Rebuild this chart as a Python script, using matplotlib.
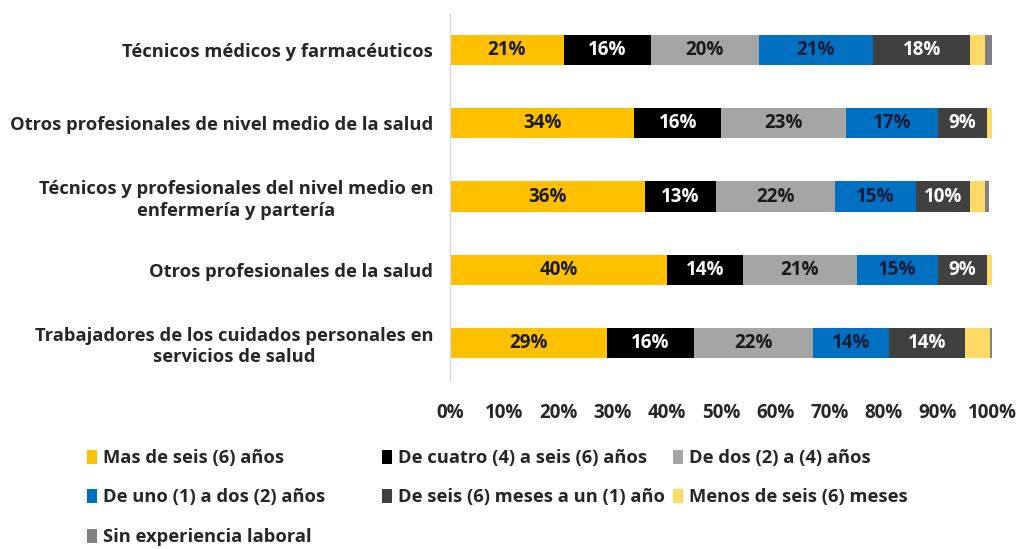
import matplotlib
matplotlib.use("Agg")
import matplotlib.pyplot as plt
import numpy as np

categories = [
    "Técnicos médicos y farmacéuticos",
    "Otros profesionales de nivel medio de la salud",
    "Técnicos y profesionales del nivel medio en\nenfermería y partería",
    "Otros profesionales de la salud",
    "Trabajadores de los cuidados personales en\nservicios de salud",
]
series_names = [
    "Mas de seis (6) años",
    "De cuatro (4) a seis (6) años",
    "De dos (2) a (4) años",
    "De uno (1) a dos (2) años",
    "De seis (6) meses a un (1) año",
    "Menos de seis (6) meses",
    "Sin experiencia laboral",
]
mas_seis_anos = [21, 34, 36, 40, 29]
cuatro_seis_anos = [16, 16, 13, 14, 16]
dos_cuatro_anos = [20, 23, 22, 21, 22]
uno_dos_anos = [21, 17, 15, 15, 14]
seis_meses_un_ano = [18, 9, 10, 9, 14]
menos_seis_meses = [2.7, 1.3, 2.8, 1.5, 4.6]
sin_experiencia = [1.3, 0.7, 0.7, 0.5, 0.4]
xtick_labels = ["0%", "10%", "20%", "30%", "40%", "50%", "60%", "70%", "80%", "90%", "100%"]

series = [mas_seis_anos, cuatro_seis_anos, dos_cuatro_anos, uno_dos_anos,
          seis_meses_un_ano, menos_seis_meses, sin_experiencia]
colors = ["#FFC000", "#000000", "#A5A5A5", "#0070C0", "#404040", "#FFD966", "#808080"]
label_colors = ["#1a1a1a", "white", "#1a1a1a", "#0d1b3a", "white", None, None]

FONT = "Open Sans"
plt.rcParams['font.family'] = [FONT, 'DejaVu Sans']
TXT = '#262626'

fig = plt.figure(figsize=(10.2, 5.49), dpi=100)
ax = fig.add_axes([450/1020, 1 - 379.5/549, 542/1020, 366/549])

y = np.arange(len(categories))
left = np.zeros(len(categories))
handles = []
for vals, name, col, lc in zip(series, series_names, colors, label_colors):
    vals = np.array(vals, dtype=float)
    b = ax.barh(y, vals, left=left, height=0.41, color=col, label=name, edgecolor='none')
    handles.append(b)
    if lc is not None:
        ax.bar_label(b, labels=[f"{v:.0f}%" for v in vals], label_type='center',
                     color=lc, fontsize=13.5, fontweight='bold')
    left += vals

ax.set_xlim(0, 100)
ax.set_ylim(len(categories) - 0.5, -0.5)
ax.set_yticks(y)
ax.set_yticklabels(categories, fontsize=13.2, fontweight='bold', color=TXT)
for lab in ax.get_yticklabels():
    lab.set_multialignment('center')
    lab.set_linespacing(1.25)
ax.set_xticks(np.arange(0, 101, 10))
ax.set_xticklabels(xtick_labels, fontsize=13.5, fontweight='bold', color=TXT)
ax.tick_params(axis='both', length=0)
ax.tick_params(axis='x', pad=17)
ax.tick_params(axis='y', pad=12)
for s in ['top', 'right', 'bottom']:
    ax.spines[s].set_visible(False)
ax.spines['left'].set_color('#D9D9D9')
ax.spines['left'].set_linewidth(1.0)

# legend laid out row-wise in three columns, as in the reference
columns = [[0, 3, 6], [1, 4], [2, 5]]
col_x = [87, 382, 673]
for idx, x0 in zip(columns, col_x):
    leg = fig.legend([handles[i] for i in idx], [series_names[i] for i in idx],
                     loc='upper left', bbox_to_anchor=(x0/1020, 1 - 449/549),
                     frameon=False, handlelength=0.55, handleheight=0.8, handletextpad=0.35,
                     labelspacing=1.17, borderpad=0, borderaxespad=0,
                     prop={'family': [FONT, 'DejaVu Sans'], 'weight': 'bold', 'size': 13.2})
    for t in leg.get_texts():
        t.set_color(TXT)

fig.savefig("out.png", dpi=100)
